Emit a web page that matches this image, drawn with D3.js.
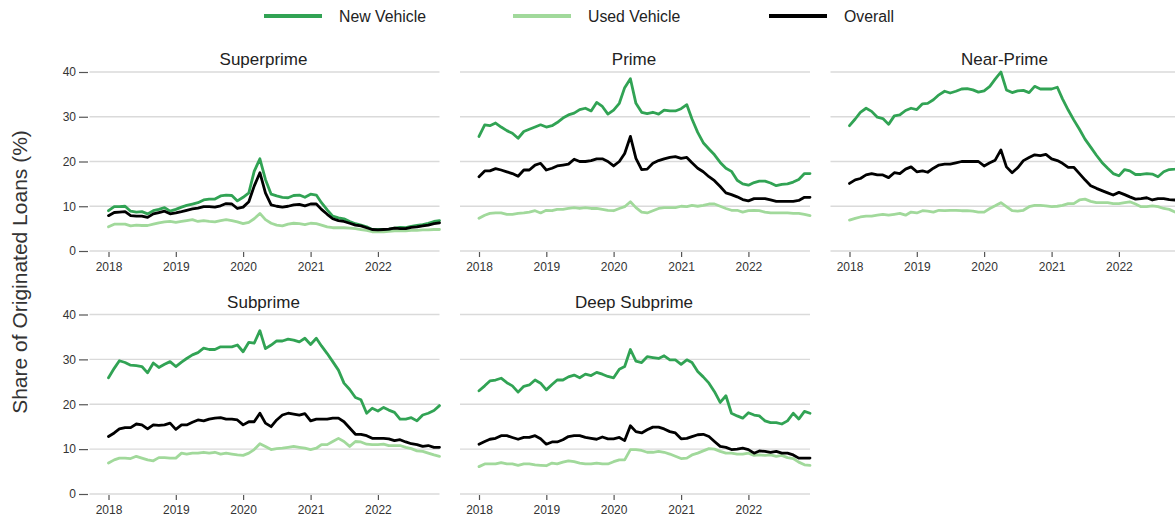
<!DOCTYPE html>
<html>
<head>
<meta charset="utf-8">
<script src="https://cdn.jsdelivr.net/npm/d3@7"></script>
<style>
  body { margin: 0; background: #fff; }
  svg { display: block; font-family: "Liberation Sans", Arial, Helvetica, sans-serif; }
</style>
</head>
<body>
<svg id="chart" width="1175" height="516"></svg>
<script>
// Monthly share of originated auto loans (%), Jan 2018 – Dec 2022
const months = d3.timeMonth.range(new Date(2018, 0, 1), new Date(2023, 0, 1));
const yearTicks = ["2018", "2019", "2020", "2021", "2022"];
const yTicks = [0, 10, 20, 30, 40];
const segments = ["Superprime", "Prime", "Near-Prime", "Subprime", "Deep Subprime"];
const seriesNames = ["New Vehicle", "Used Vehicle", "Overall"];

const superprimeNew = [
  9.0, 9.9, 9.9, 10.0, 8.9, 8.7, 8.8, 8.3, 9.0, 9.3, 9.7, 8.9,
  9.3, 9.8, 10.2, 10.5, 10.8, 11.4, 11.6, 11.6, 12.3, 12.5, 12.4, 11.2,
  12.0, 13.0, 17.8, 20.6, 16.0, 12.7, 12.3, 12.0, 11.9, 12.4, 12.5, 12.0,
  12.7, 12.5, 10.8, 9.2, 7.8, 7.4, 7.2, 6.6, 6.1, 5.8, 5.4, 4.8,
  4.8, 4.8, 4.9, 5.1, 5.3, 5.2, 5.5, 5.7, 5.9, 6.2, 6.6, 6.8
];
const superprimeUsed = [
  5.4, 6.0, 6.0, 6.0, 5.6, 5.8, 5.7, 5.7, 6.0, 6.3, 6.5, 6.6,
  6.4, 6.6, 6.8, 7.0, 6.6, 6.8, 6.6, 6.5, 6.8, 7.0, 6.8, 6.5,
  6.1, 6.4, 7.2, 8.4, 7.0, 6.2, 5.8, 5.6, 6.0, 6.2, 6.1, 5.9,
  6.2, 6.1, 5.8, 5.4, 5.2, 5.2, 5.2, 5.1, 5.0, 4.8, 4.6, 4.3,
  4.3, 4.3, 4.4, 4.5, 4.5, 4.5, 4.6, 4.6, 4.7, 4.7, 4.8, 4.8
];
const superprimeOverall = [
  7.9, 8.6, 8.7, 8.8, 7.9, 7.8, 7.8, 7.5, 8.3, 8.6, 8.9, 8.3,
  8.5, 8.8, 9.1, 9.4, 9.6, 9.9, 9.9, 9.8, 10.1, 10.6, 10.5, 9.5,
  9.8, 11.0, 14.5, 17.5, 13.0, 10.3, 10.0, 9.8, 10.0, 10.3, 10.4, 10.1,
  10.5, 10.5, 9.3, 8.2, 7.2, 6.8, 6.6, 6.2, 5.8, 5.6, 5.2, 4.8,
  4.7, 4.8, 4.9, 5.1, 5.0, 5.0, 5.3, 5.4, 5.6, 5.8, 6.1, 6.3
];

const primeNew = [
  25.6, 28.2, 28.0, 28.6, 27.7, 26.9, 26.3, 25.2, 26.7, 27.2, 27.7, 28.2,
  27.7, 28.0, 28.7, 29.7, 30.4, 30.8, 31.6, 31.9, 31.3, 33.2, 32.3, 30.6,
  31.5, 33.0, 36.5, 38.5, 33.0, 31.0, 30.7, 31.0, 30.6, 31.5, 31.3, 31.3,
  31.8, 32.7, 29.5, 26.5, 24.2, 22.8, 21.5, 19.8, 18.5, 17.8, 15.8, 15.0,
  14.7, 15.3, 15.6, 15.6, 15.2, 14.6, 14.9, 15.0, 15.4, 16.0, 17.3, 17.3
];
const primeUsed = [
  7.3, 8.0, 8.4, 8.5, 8.5, 8.2, 8.2, 8.4, 8.5, 8.7, 9.0, 8.5,
  9.1, 9.0, 9.3, 9.3, 9.5, 9.7, 9.5, 9.7, 9.5, 9.5, 9.3, 9.1,
  9.0, 9.5, 9.9, 11.0, 9.7, 8.7, 8.5, 9.0, 9.5, 9.7, 9.7, 9.7,
  10.0, 9.9, 10.2, 10.0, 10.2, 10.5, 10.5, 10.0, 9.5, 9.1, 9.1, 8.7,
  9.0, 9.1, 9.0, 8.7, 8.5, 8.5, 8.5, 8.5, 8.4, 8.4, 8.2, 7.9
];
const primeOverall = [
  16.6, 17.9, 17.9, 18.4, 18.1, 17.7, 17.3, 16.7, 18.1, 18.1, 19.2, 19.6,
  18.1, 18.5, 19.0, 19.2, 19.4, 20.5, 20.0, 20.0, 20.2, 20.6, 20.6, 20.0,
  19.0, 20.0, 21.8, 25.6, 20.7, 18.2, 18.3, 19.6, 20.2, 20.6, 20.9, 21.1,
  20.7, 20.9, 19.7, 18.5, 17.7, 16.6, 15.7, 14.4, 13.0, 12.6, 12.1, 11.5,
  11.2, 11.7, 11.7, 11.7, 11.4, 11.1, 11.1, 11.1, 11.1, 11.3, 12.0, 12.0
];

const nearPrimeNew = [
  28.0, 29.5, 31.0, 31.9, 31.2, 29.9, 29.6, 28.3, 30.2, 30.4, 31.4, 31.9,
  31.6, 32.9, 33.0, 33.8, 34.9, 35.7, 35.3, 35.7, 36.2, 36.3, 36.0, 35.5,
  35.8, 36.8, 38.4, 40.0, 36.0, 35.4, 35.8, 35.9, 35.4, 36.8, 36.2, 36.2,
  36.2, 36.6, 34.0, 31.5, 29.3, 27.2, 25.0, 23.2, 21.4, 19.8, 18.5, 17.3,
  16.8, 18.2, 17.9, 17.1, 17.1, 17.3, 17.2, 16.6, 17.7, 18.2, 18.3, 18.5
];
const nearPrimeUsed = [
  6.9, 7.3, 7.6, 7.8, 7.8, 8.0, 8.2, 8.0, 8.2, 8.4, 8.0, 8.7,
  8.5, 9.0, 8.9, 8.7, 9.1, 9.0, 9.1, 9.1, 9.0, 9.0, 8.9, 8.7,
  8.7, 9.5, 10.1, 10.8, 9.9, 9.0, 8.9, 9.1, 9.9, 10.2, 10.2, 10.1,
  9.9, 10.0, 10.2, 10.6, 10.6, 11.4, 11.6, 11.1, 10.8, 10.8, 10.8, 10.6,
  10.6, 10.8, 11.0, 10.5, 9.9, 9.9, 10.1, 9.9, 9.5, 9.3, 8.7, 8.2
];
const nearPrimeOverall = [
  15.1, 15.9, 16.2, 17.0, 17.3, 17.0, 17.0, 16.4, 17.5, 17.3, 18.3, 18.8,
  17.7, 17.9, 17.6, 18.5, 19.2, 19.4, 19.4, 19.7, 20.0, 20.0, 20.0, 20.0,
  19.0, 19.7, 20.3, 22.6, 18.8, 17.5, 18.6, 20.2, 20.9, 21.5, 21.3, 21.6,
  20.6, 20.2, 19.6, 18.7, 18.7, 17.3, 15.9, 14.6, 14.0, 13.5, 13.0, 12.5,
  13.1, 12.6, 12.1, 11.6, 11.7, 11.9, 11.4, 11.7, 11.7, 11.5, 11.4, 11.2
];

const subprimeNew = [
  25.9, 28.0, 29.7, 29.3, 28.7, 28.6, 28.4, 27.0, 29.2, 28.2, 28.9, 29.5,
  28.4, 29.4, 30.2, 31.0, 31.5, 32.5, 32.2, 32.2, 32.8, 32.8, 32.8, 33.2,
  31.7, 33.8, 33.6, 36.4, 32.4, 33.2, 34.1, 34.1, 34.5, 34.3, 33.9, 34.7,
  33.3, 34.7, 33.0, 31.3, 29.5, 27.6, 24.7, 23.3, 21.5, 21.0, 18.0, 19.1,
  18.5, 19.3, 18.7, 18.2, 16.7, 16.7, 17.0, 16.3, 17.6, 18.0, 18.6, 19.7
];
const subprimeUsed = [
  6.9, 7.6, 8.0, 8.0, 7.9, 8.4, 8.0, 7.6, 7.4, 8.1, 8.1, 8.0,
  8.0, 9.1, 8.9, 9.1, 9.1, 9.3, 9.1, 9.3, 8.9, 9.1, 8.9, 8.7,
  8.6, 9.1, 9.9, 11.2, 10.6, 9.9, 10.1, 10.2, 10.4, 10.6, 10.4, 10.2,
  9.9, 10.2, 11.0, 11.0, 11.7, 12.4, 11.7, 10.6, 11.7, 11.6, 11.1, 11.0,
  11.0, 11.1, 10.8, 10.8, 10.8, 10.4, 10.1, 9.6, 9.5, 9.1, 8.7, 8.4
];
const subprimeOverall = [
  12.8, 13.6, 14.5, 14.8, 14.8, 15.6, 15.4, 14.5, 15.4, 15.3, 15.4, 15.8,
  14.4, 15.4, 15.4, 16.0, 16.5, 16.3, 16.7, 16.9, 17.0, 16.7, 16.7, 16.5,
  15.4, 16.1, 16.1, 18.0, 15.8, 15.0, 16.5, 17.6, 18.0, 17.8, 17.6, 17.9,
  16.3, 16.7, 16.7, 16.7, 16.9, 16.9, 16.1, 14.7, 13.3, 13.3, 13.0, 12.4,
  12.4, 12.4, 12.3, 11.9, 12.1, 11.6, 11.2, 11.0, 10.6, 10.8, 10.4, 10.4
];

const deepSubprimeNew = [
  23.0, 24.1, 25.2, 25.4, 25.8, 24.8, 24.1, 22.7, 24.0, 24.3, 25.4, 24.7,
  23.2, 24.4, 25.4, 25.4, 26.1, 26.5, 25.9, 26.7, 26.4, 27.1, 26.7, 26.2,
  25.9, 27.8, 28.4, 32.2, 29.6, 29.3, 30.6, 30.4, 30.2, 30.8, 29.9, 29.9,
  28.9, 29.9, 29.3, 27.3, 26.1, 24.7, 22.8, 20.4, 21.9, 18.0, 17.4, 16.9,
  18.1, 17.6, 17.4, 16.3, 15.9, 15.9, 15.6, 16.3, 18.0, 16.7, 18.4, 18.0
];
const deepSubprimeUsed = [
  6.1, 6.7, 6.7, 6.7, 7.0, 6.7, 6.7, 6.4, 6.7, 6.7, 6.5, 6.4,
  6.3, 6.9, 6.7, 7.1, 7.4, 7.2, 6.9, 6.7, 6.7, 6.9, 6.7, 6.7,
  7.2, 7.6, 7.6, 9.9, 9.9, 9.7, 9.3, 9.3, 9.5, 9.3, 8.9, 8.4,
  7.9, 8.0, 8.7, 9.1, 9.6, 10.1, 10.0, 9.5, 9.1, 9.1, 8.9, 8.9,
  9.1, 8.6, 8.7, 8.6, 8.7, 8.4, 8.6, 8.1, 7.9, 7.1, 6.5, 6.4
];
const deepSubprimeOverall = [
  11.1, 11.7, 12.2, 12.4, 13.0, 13.0, 12.6, 12.2, 12.6, 12.6, 13.0, 12.3,
  11.1, 11.6, 11.6, 12.1, 12.8, 13.0, 13.0, 12.6, 12.4, 12.2, 12.7, 12.3,
  12.3, 12.6, 11.9, 15.2, 13.9, 13.6, 14.3, 14.9, 14.9, 14.5, 13.9, 13.6,
  12.3, 12.4, 12.8, 13.2, 13.3, 12.8, 11.7, 10.6, 10.4, 9.9, 10.0, 10.2,
  9.9, 9.1, 9.6, 9.5, 9.3, 9.5, 9.1, 9.1, 8.7, 8.0, 8.0, 8.0
];

// One entry per segment: [new, used, overall]
const panelSeries = [
  [superprimeNew, superprimeUsed, superprimeOverall],
  [primeNew, primeUsed, primeOverall],
  [nearPrimeNew, nearPrimeUsed, nearPrimeOverall],
  [subprimeNew, subprimeUsed, subprimeOverall],
  [deepSubprimeNew, deepSubprimeUsed, deepSubprimeOverall]
];

const colors = { "New Vehicle": "#31a354", "Used Vehicle": "#a1d99b", "Overall": "#000000" };
const drawOrder = [1, 0, 2]; // used underneath, overall on top

const svg = d3.select("#chart");
const panelW = 350;
const colLeft = c => 89.5 + c * 370.5;
const rows = [
  { yBottom: 251, yTop: 72, titleY: 65 },
  { yBottom: 494, yTop: 314.5, titleY: 307.5 }
];

const x = d3.scaleTime()
  .domain([months[0], months[months.length - 1]])
  .range([19, panelW]);
const yearDates = yearTicks.map(t => new Date(+t, 0, 1));

segments.forEach((name, i) => {
  const col = i % 3, row = Math.floor(i / 3);
  const r = rows[row];
  const g = svg.append("g").attr("transform", `translate(${colLeft(col)},0)`);
  const y = d3.scaleLinear().domain([0, 40]).range([r.yBottom, r.yTop]);

  // horizontal grid
  g.append("g").selectAll("line")
    .data(yTicks)
    .join("line")
    .attr("x1", 0).attr("x2", panelW)
    .attr("y1", d => y(d)).attr("y2", d => y(d))
    .attr("stroke", "#dadada")
    .attr("stroke-width", 1.3);

  // x axis
  const xAxis = g.append("g")
    .attr("transform", `translate(0,${r.yBottom + 1})`)
    .call(d3.axisBottom(x).tickValues(yearDates).tickSize(5).tickPadding(5)
      .tickFormat((d, k) => yearTicks[k]));
  xAxis.select(".domain").remove();
  xAxis.selectAll(".tick line").attr("stroke", "#555").attr("stroke-width", 1.2);
  xAxis.selectAll(".tick text").attr("fill", "#333").style("font-size", "12px")
    .style("font-family", "'Liberation Sans', Arial, sans-serif");

  // y axis on the left column only
  if (col === 0) {
    const yAxis = g.append("g")
      .attr("transform", "translate(-1.5,0)")
      .call(d3.axisLeft(y).tickValues(yTicks).tickSize(9).tickPadding(3));
    yAxis.select(".domain").remove();
    yAxis.selectAll(".tick line").attr("stroke", "#555").attr("stroke-width", 1.2);
    yAxis.selectAll(".tick text").attr("fill", "#333").style("font-size", "12px")
      .style("font-family", "'Liberation Sans', Arial, sans-serif");
  }

  // panel title
  g.append("text")
    .attr("x", panelW / 2 - 1)
    .attr("y", r.titleY)
    .attr("text-anchor", "middle")
    .attr("fill", "#222")
    .style("font-size", "17px")
    .text(name);

  // series lines
  const line = d3.line()
    .x((d, k) => x(months[k]))
    .y(d => y(d));
  drawOrder.forEach(s => {
    g.append("path")
      .datum(panelSeries[i][s])
      .attr("fill", "none")
      .attr("stroke", colors[seriesNames[s]])
      .attr("stroke-width", 2.8)
      .attr("stroke-linejoin", "round")
      .attr("stroke-linecap", "round")
      .attr("d", line);
  });
});

// shared y-axis title
svg.append("text")
  .attr("transform", "translate(27,272) rotate(-90)")
  .attr("text-anchor", "middle")
  .attr("fill", "#333")
  .style("font-size", "21px")
  .text("Share of Originated Loans (%)");

// legend
const legendX = [264, 513, 769];
const legend = svg.append("g");
seriesNames.forEach((s, k) => {
  legend.append("line")
    .attr("x1", legendX[k]).attr("x2", legendX[k] + 58)
    .attr("y1", 16).attr("y2", 16)
    .attr("stroke", colors[s])
    .attr("stroke-width", 4);
  legend.append("text")
    .attr("x", legendX[k] + 75)
    .attr("y", 21.5)
    .attr("fill", "#222")
    .style("font-size", "15.8px")
    .text(s);
});
</script>
</body>
</html>
